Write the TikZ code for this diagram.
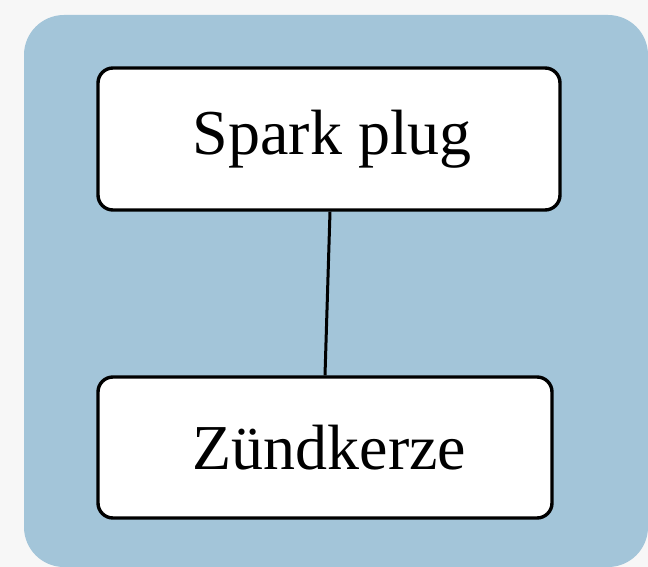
\documentclass[tikz,border=0pt]{standalone}
\usepackage{fontspec}
\setmainfont{Liberation Serif}
\definecolor{pagebg}{HTML}{F7F7F7}
\definecolor{panel}{HTML}{A3C5D9}
\tikzset{
  termbox/.style={draw=black, fill=white, line width=3.4pt, rounded corners=15pt,
    inner sep=0pt, font=\fontsize{64}{70}\selectfont},
}
\begin{document}
\begin{tikzpicture}[x=1pt, y=-1pt]
  % page and panel
  \fill[pagebg] (0,0) rectangle (648,567);
  \useasboundingbox (0,0) rectangle (648,567);
  \fill[panel, rounded corners=40pt] (24,15) rectangle (648,567);
  % terms
  \node[termbox, minimum width=462pt, minimum height=142pt] (spark) at (329,139) {\hspace*{7pt}Spark plug};
  \node[termbox, minimum width=454pt, minimum height=141pt] (zuend) at (325,447.5) {\hspace*{9pt}Zündkerze};
  % link
  \draw[line width=3pt] (spark.south) ++(1,0) -- (zuend.north);
\end{tikzpicture}
\end{document}
